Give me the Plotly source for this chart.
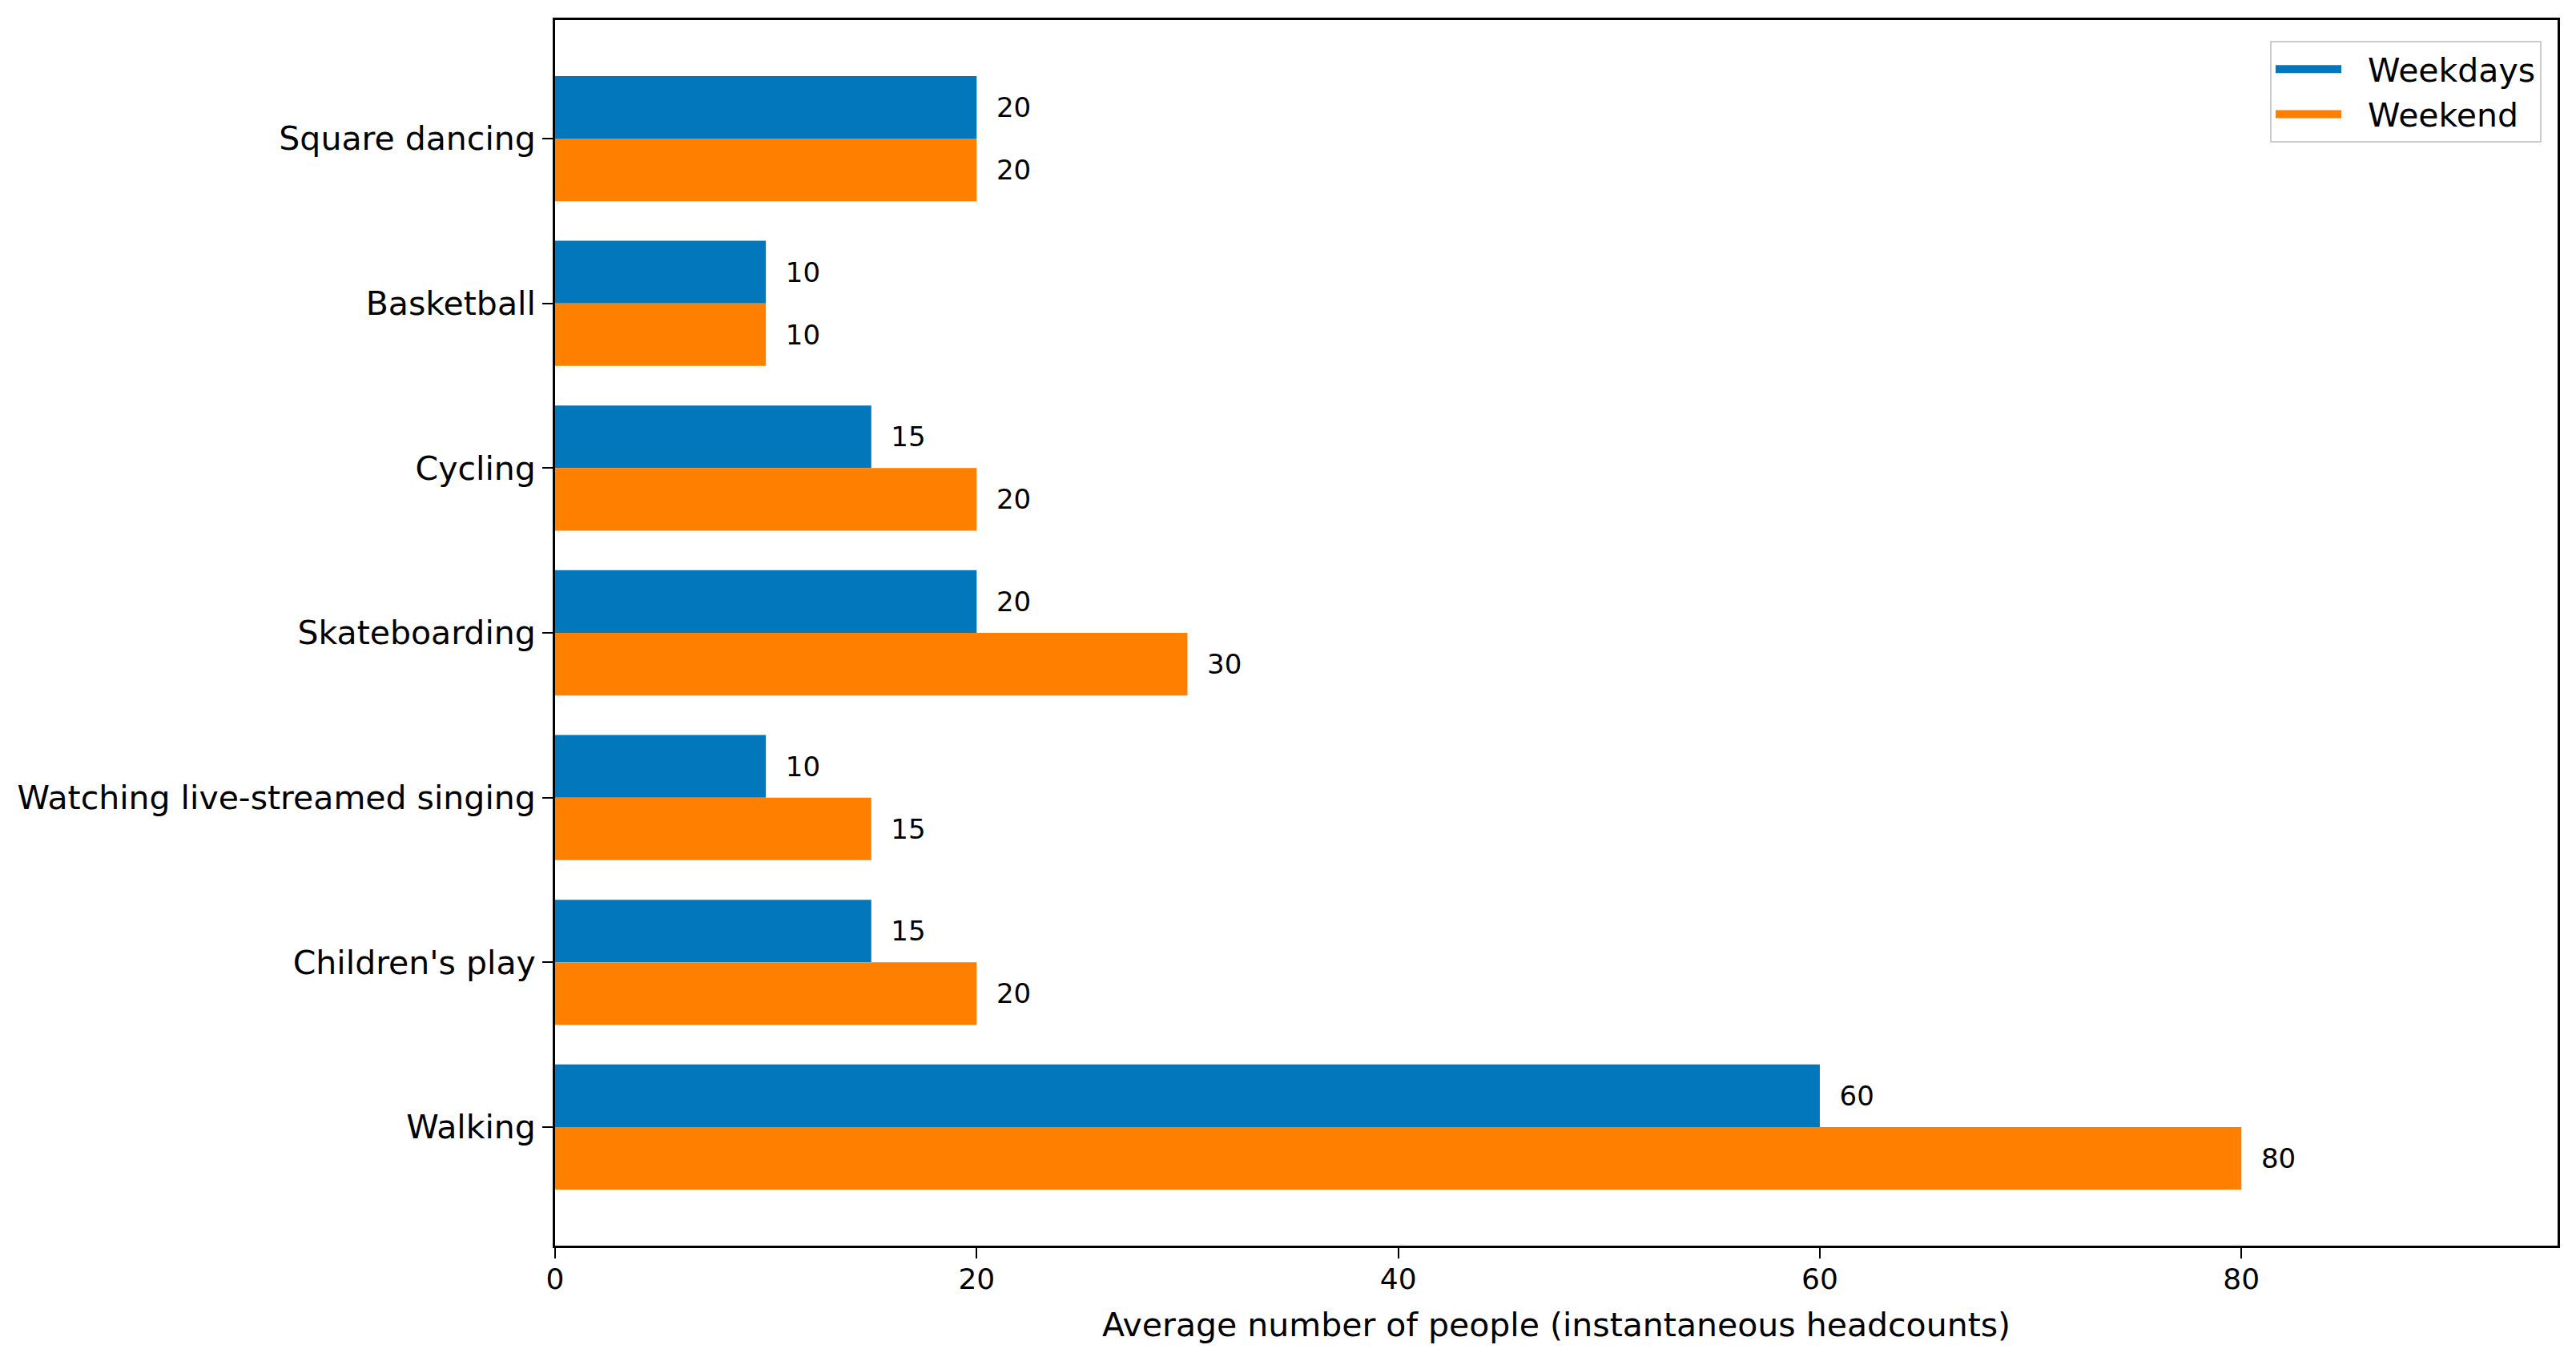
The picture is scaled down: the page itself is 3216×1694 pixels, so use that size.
import plotly.graph_objects as go

categories = ["Walking", "Children's play", "Watching live-streamed singing",
              "Skateboarding", "Cycling", "Basketball", "Square dancing"]
weekdays = [60, 15, 10, 20, 15, 10, 20]
weekend = [80, 20, 15, 30, 20, 10, 20]
x_ticks = [0, 20, 40, 60, 80]
series_names = ["Weekdays", "Weekend"]

BLUE = "#0277BB"
ORANGE = "#FF7F00"
FONT = "DejaVu Sans"
BW = 0.38

fig = go.Figure()
fig.add_trace(go.Bar(
    name="Weekdays", y=categories, x=weekdays, orientation="h",
    marker=dict(color=BLUE, line=dict(width=0)),
    width=BW, offset=0, showlegend=False,
    text=weekdays, texttemplate="  %{x}", textposition="outside",
    textfont=dict(size=34, color="black", family=FONT),
    cliponaxis=False,
))
fig.add_trace(go.Bar(
    name="Weekend", y=categories, x=weekend, orientation="h",
    marker=dict(color=ORANGE, line=dict(width=0)),
    width=BW, offset=-BW, showlegend=False,
    text=weekend, texttemplate="  %{x}", textposition="outside",
    textfont=dict(size=34, color="black", family=FONT),
    cliponaxis=False,
))
# legend entries drawn as wide bands (like the reference legend patches)
for name, col in zip(series_names, [BLUE, ORANGE]):
    fig.add_trace(go.Scatter(
        name=name, x=[None], y=[None], mode="lines",
        line=dict(color=col, width=16, dash="82px,200px"),
        showlegend=True, hoverinfo="skip",
    ))

fig.update_layout(
    width=3200, height=1678,
    margin=dict(l=685, r=15, t=17, b=131),
    barmode="overlay",
    plot_bgcolor="white", paper_bgcolor="white",
    font=dict(family=FONT, size=41, color="black"),
    legend=dict(
        x=0.992, y=0.983, xanchor="right", yanchor="top",
        bordercolor="#CCCCCC", borderwidth=2, bgcolor="white",
        font=dict(size=41), itemwidth=110, tracegroupgap=0,
    ),
    uniformtext=dict(mode=False),
)
fig.update_xaxes(
    range=[0, 95], tickvals=x_ticks, ticktext=[str(v) for v in x_ticks],
    showgrid=False, zeroline=False,
    showline=True, linecolor="black", linewidth=3, mirror=True,
    ticks="outside", ticklen=13, tickwidth=2, tickcolor="black",
    tickfont=dict(size=36), ticklabelstandoff=-5,
    title=dict(text="Average number of people (instantaneous headcounts)",
               font=dict(size=41), standoff=24),
)
fig.update_yaxes(
    categoryorder="array", categoryarray=categories,
    range=[-0.72, 6.72],
    showgrid=False, zeroline=False,
    showline=True, linecolor="black", linewidth=3, mirror=True,
    ticks="outside", ticklen=13, tickwidth=2, tickcolor="black",
    tickfont=dict(size=41),
)

fig.write_html("out.html")
